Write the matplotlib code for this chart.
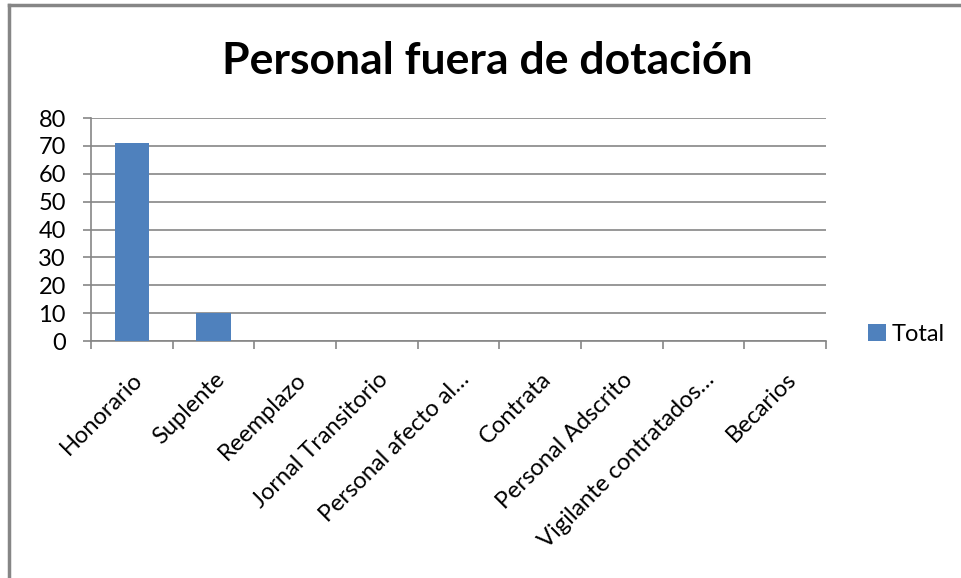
import matplotlib.pyplot as plt
from matplotlib.lines import Line2D
from matplotlib.patches import Patch
import numpy as np

# Data
categorias = [
    "Honorario",
    "Suplente",
    "Reemplazo",
    "Jornal Transitorio",
    "Personal afecto al…",
    "Contrata",
    "Personal Adscrito",
    "Vigilante contratados…",
    "Becarios",
]
total = [71, 10, 0, 0, 0, 0, 0, 0, 0]

plt.rcParams["font.family"] = ["Lato", "DejaVu Sans"]

grid_color = "#868686"
bar_color = "#4F81BD"

fig = plt.figure(figsize=(9.61, 5.78), dpi=100)
ax = fig.add_axes([0.0947, 0.410, 0.7648, 0.3858])

x = np.arange(len(categorias))
ax.bar(x, total, width=0.42, color=bar_color, zorder=3)

ax.set_xlim(-0.5, len(categorias) - 0.5)
ax.set_ylim(0, 80)
ax.set_yticks(range(0, 81, 10))
ax.yaxis.grid(True, color=grid_color, linewidth=1.2)
ax.set_axisbelow(True)

for s in ["top", "right"]:
    ax.spines[s].set_visible(False)
for s in ["left", "bottom"]:
    ax.spines[s].set_color(grid_color)
    ax.spines[s].set_linewidth(1.2)

ax.tick_params(axis="y", length=6, color=grid_color, width=1.2,
               labelsize=17, pad=12)

# category labels at centres, tick marks at boundaries
ax.set_xticks(x)
ax.set_xticklabels(categorias, rotation=45, ha="right",
                   rotation_mode="anchor", fontsize=17)
ax.tick_params(axis="x", which="major", length=0, pad=20)
ax.set_xticks(np.arange(-0.5, len(categorias)), minor=True)
ax.tick_params(axis="x", which="minor", length=6, color=grid_color, width=1.2)

fig.suptitle("Personal fuera de dotación", x=0.507, y=0.929,
             fontsize=32, fontweight="bold")

handles = [Patch(facecolor=bar_color, label="Total")]
fig.legend(handles=handles, loc="center left", bbox_to_anchor=(0.881, 0.422),
           frameon=False, fontsize=17, handlelength=0.75, handleheight=0.75,
           handletextpad=0.25)

# partial chart border (top and left)
fig.add_artist(Line2D([0.0094, 1.0], [0.9905, 0.9905], color=grid_color,
                      linewidth=2.5, transform=fig.transFigure))
fig.add_artist(Line2D([0.0094, 0.0094], [0.0, 0.9905], color=grid_color,
                      linewidth=2.5, transform=fig.transFigure))

plt.savefig("out.png", dpi=100)
